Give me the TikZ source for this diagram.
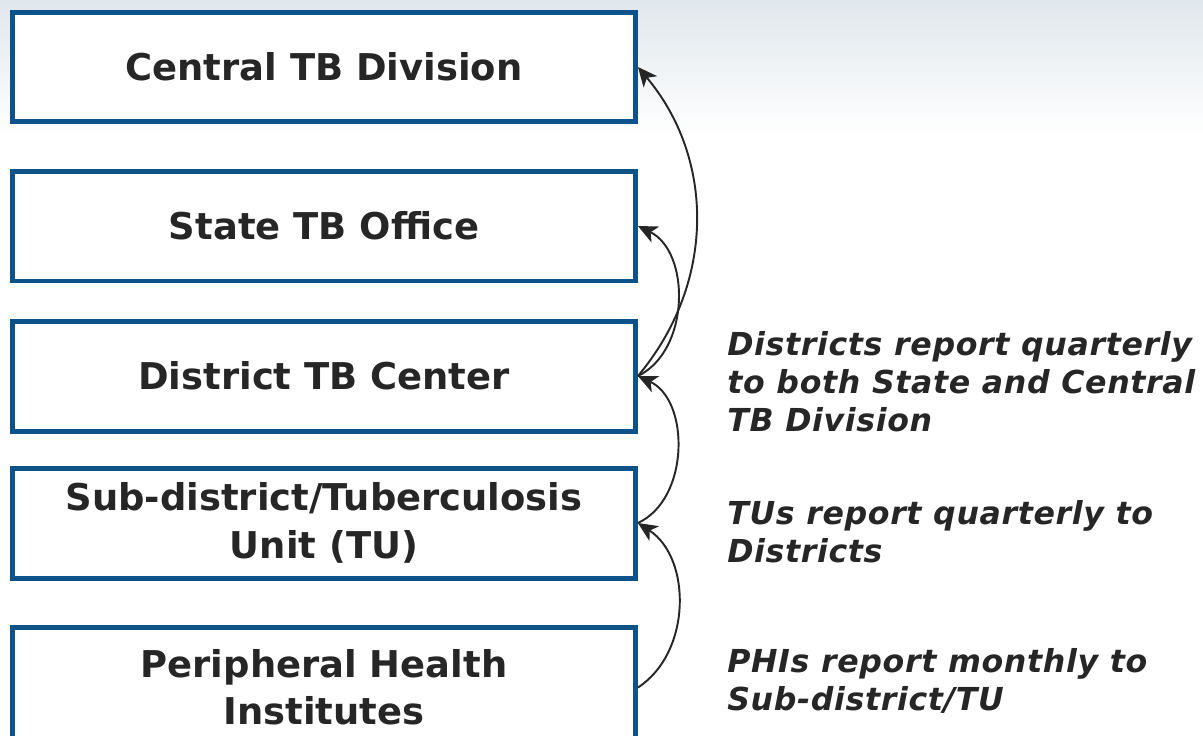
\documentclass[tikz,border=0pt]{standalone}
\usepackage{fontspec}
\setmainfont{DejaVu Sans}
\usetikzlibrary{arrows.meta}
\definecolor{boxblue}{RGB}{14,82,138}
\definecolor{ink}{RGB}{38,38,38}
\definecolor{skyband}{RGB}{224,231,236}
\begin{document}
\begin{tikzpicture}[x=0.02cm,y=-0.02cm,
    level/.style={draw=boxblue,line width=0.1cm,fill=white,minimum width=12.46cm,minimum height=2.2cm,
      align=center,text=ink,font=\fontsize{21}{27}\selectfont\bfseries},
    note/.style={anchor=north west,inner sep=0pt,align=left,text=ink,
      font=\fontsize{18}{21.6}\selectfont\bfseries\itshape\addfontfeature{LetterSpace=2}},
    report/.style={draw=ink,line width=1.1pt,-{Stealth[length=11pt,width=10pt,inset=3pt]}}]
		    \useasboundingbox (0,0) rectangle (1203,735);
		    \shade[top color=skyband,bottom color=white] (0,0) rectangle (1203,135);

		    \node[level] (CT) at (324,67) {Central TB Division};
		    \node[level] (ST) at (324,226) {State TB Office};
		    \node[level] (DT) at (324,376) {District TB Center};
		    \node[level] (TU) at (324,523) {Sub-district/Tuberculosis\\Unit (TU)};
		    \node[level, minimum height=2.4cm] (PH) at (324,687.5) {Peripheral Health\\Institutes};

		    \node[note] (RD) at (727,331) {Districts report quarterly\\to both State and Central\\TB Division};
		    \node[note] (RT) at (727,500) {TUs report quarterly to\\Districts};
		    \node[note] (RP) at (727,648) {PHIs report monthly to\\Sub-district/TU};

		    \draw[report] (DT.east) to[bend right=40] (CT.east);
		    \draw[report] (DT.east) to[bend right=64] (ST.east);
		    \draw[report] (TU.east) to[bend right=65] (DT.east);
		    \draw[report] (PH.east) to[bend right=57] (TU.east);
		\end{tikzpicture}
\end{document}
